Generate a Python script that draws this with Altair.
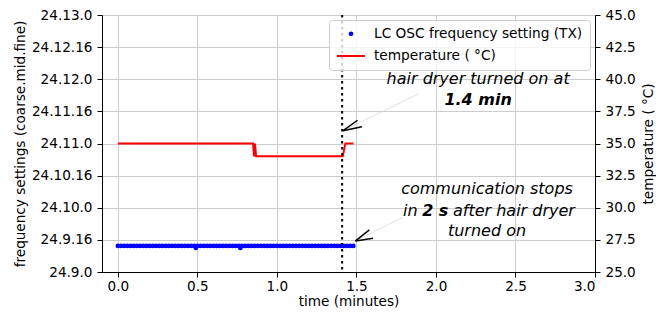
import altair as alt
import pandas as pd

# ---- data ----
blue_t = [0.0, 0.02, 0.04, 0.06, 0.08, 0.1, 0.12, 0.14, 0.16, 0.18, 0.2, 0.22,
          0.24, 0.26, 0.28, 0.3, 0.32, 0.34, 0.36, 0.38, 0.4, 0.42, 0.44, 0.46,
          0.48, 0.49, 0.5, 0.52, 0.54, 0.56, 0.58, 0.6, 0.62, 0.64, 0.66, 0.68,
          0.7, 0.72, 0.74, 0.76, 0.77, 0.78, 0.8, 0.82, 0.84, 0.86, 0.88, 0.9,
          0.92, 0.94, 0.96, 0.98, 1.0, 1.02, 1.04, 1.06, 1.08, 1.1, 1.12, 1.14,
          1.16, 1.18, 1.2, 1.22, 1.24, 1.26, 1.28, 1.3, 1.32, 1.34, 1.36, 1.38,
          1.4, 1.42, 1.44, 1.46, 1.48]
# frequency code = mid*32 + fine (coarse = 24)
blue_code = [301, 301, 301, 301, 301, 301, 301, 301, 301, 301, 301, 301,
             301, 301, 301, 301, 301, 301, 301, 301, 301, 301, 301, 301,
             301, 300, 301, 301, 301, 301, 301, 301, 301, 301, 301, 301,
             301, 301, 301, 301, 300, 301, 301, 301, 301, 301, 301, 301,
             301, 301, 301, 301, 301, 301, 301, 301, 301, 301, 301, 301,
             301, 301, 301, 301, 301, 301, 301, 301, 301, 301, 301, 301,
             301, 301, 301, 301, 301]
temp_t = [0.0, 0.850, 0.856, 0.862, 0.869, 1.414, 1.430, 1.481]
temp_c = [35, 35, 34, 35, 34, 34, 35, 35]

freq_ticks = [288, 304, 320, 336, 352, 368, 384, 400, 416]
temp_ticks = [25, 27.5, 30, 32.5, 35, 37.5, 40, 42.5, 45]
time_ticks = [0, 0.5, 1.0, 1.5, 2.0, 2.5, 3.0]
dryer_on_min = [1.41]

SERIES = ["LC OSC frequency setting (TX)", "temperature ( °C)"]

# annotation texts
ann_center_it = ["hair dryer turned on at", "communication stops", "turned on"]
ann_center_it_x = [2.265, 2.321, 2.321]
ann_center_it_t = [40.0, 31.45, 28.2]
ann_center_bold = ["1.4 min"]
ann_center_bold_x = [2.265]
ann_center_bold_t = [38.35]
ann_left_it = ["in", "after hair dryer"]
ann_left_it_x = [1.793, 2.107]
ann_left_it_t = [29.75, 29.75]
ann_left_bold = ["2 s"]
ann_left_bold_x = [1.913]
ann_left_bold_t = [29.75]

# arrows (shaft tail -> tip, and two head arms)
shaft_x = [1.888, 1.787]
shaft_t = [38.85, 29.23]
shaft_x2 = [1.416, 1.494]
shaft_t2 = [36.0, 27.42]
head_x = [1.416, 1.416, 1.494, 1.494]
head_t = [36.0, 36.0, 27.42, 27.42]
head_x2 = [1.507, 1.534, 1.581, 1.605]
head_t2 = [36.81, 36.31, 28.28, 27.62]

FONT = "DejaVu Sans"
FS = 13.6

xs = alt.Scale(domain=[-0.1, 3.0], nice=False, zero=False)
xa = alt.Axis(values=time_ticks, format=".1f", title="time (minutes)", grid=True,
              labelPadding=2, titlePadding=2)

ys_f = alt.Scale(domain=[288, 416], nice=False, zero=False)
ya_f = alt.Axis(values=freq_ticks, orient="left", grid=True,
                labelExpr="'24.' + floor(datum.value / 32) + '.' + (datum.value % 32)",
                title="frequency settings (coarse.mid.fine)", titlePadding=4, labelPadding=5)

ys_t = alt.Scale(domain=[25, 45], nice=False, zero=False)
ya_t = alt.Axis(values=temp_ticks, orient="right", grid=False, format=".1f",
                title="temperature ( °C)", titlePadding=6, labelPadding=5,
                titleAngle=270, titleBaseline="top")

legend = alt.Legend(
    title=None, orient="top-right", offset=5, padding=7, rowPadding=-1,
    labelFont=FONT, labelFontSize=13.7, labelColor="black", labelLimit=400,
    labelOffset=8, symbolStrokeWidth=2, symbolFillColor="#0000ff",
    fillColor="rgba(255,255,255,0.8)", strokeColor="#cccccc", cornerRadius=3,
)

blue_df = pd.DataFrame({"x": blue_t, "code": blue_code, "series": SERIES[0]})
points = alt.Chart(blue_df).mark_point(filled=False, fill="#0000ff", strokeWidth=2,
                                       opacity=1).encode(
    x=alt.X("x:Q", scale=xs, axis=xa),
    y=alt.Y("code:Q", scale=ys_f, axis=ya_f),
    color=alt.Color("series:N", scale=alt.Scale(domain=SERIES, range=["#0000ff", "#ff0000"]),
                    legend=legend),
    shape=alt.Shape("series:N", scale=alt.Scale(domain=SERIES, range=["circle", "stroke"]),
                    legend=legend),
    size=alt.Size("series:N", scale=alt.Scale(domain=SERIES, range=[8, 784]),
                  legend=legend),
)

temp_df = pd.DataFrame({"x": temp_t, "t": temp_c})
line = alt.Chart(temp_df).mark_line(color="#ff0000", strokeWidth=2).encode(
    x=alt.X("x:Q", scale=xs, axis=xa),
    y=alt.Y("t:Q", scale=ys_t, axis=ya_t),
)

vline = alt.Chart(pd.DataFrame({"x": dryer_on_min})).mark_rule(
    color="black", strokeWidth=2, strokeDash=[2.5, 3.5]
).encode(x=alt.X("x:Q", scale=xs, axis=xa))

shaft_df = pd.DataFrame({"x": shaft_x, "t": shaft_t, "x2": shaft_x2, "t2": shaft_t2})
shafts = alt.Chart(shaft_df).mark_rule(color="#d8d8d8", strokeWidth=0.8).encode(
    x=alt.X("x:Q", scale=xs, axis=xa), x2="x2:Q",
    y=alt.Y("t:Q", scale=ys_t, axis=ya_t), y2="t2:Q",
)
head_df = pd.DataFrame({"x": head_x, "t": head_t, "x2": head_x2, "t2": head_t2})
heads = alt.Chart(head_df).mark_rule(color="black", strokeWidth=1.5).encode(
    x=alt.X("x:Q", scale=xs, axis=xa), x2="x2:Q",
    y=alt.Y("t:Q", scale=ys_t, axis=ya_t), y2="t2:Q",
)


def text_layer(labels, xv, tv, align, bold):
    df = pd.DataFrame({"x": xv, "t": tv, "label": labels})
    return alt.Chart(df).mark_text(
        font=FONT, fontSize=16, fontStyle="italic",
        fontWeight="bold" if bold else "normal",
        align=align, baseline="middle", color="black",
    ).encode(
        x=alt.X("x:Q", scale=xs, axis=xa),
        y=alt.Y("t:Q", scale=ys_t, axis=ya_t),
        text="label:N",
    )


texts = [
    text_layer(ann_center_it, ann_center_it_x, ann_center_it_t, "center", False),
    text_layer(ann_center_bold, ann_center_bold_x, ann_center_bold_t, "center", True),
    text_layer(ann_left_it, ann_left_it_x, ann_left_it_t, "left", False),
    text_layer(ann_left_bold, ann_left_bold_x, ann_left_bold_t, "left", True),
]

inner = alt.layer(line, vline, shafts, heads, *texts)

chart = alt.layer(points, inner).resolve_scale(y="independent").properties(
    width=493, height=257,
    autosize=alt.AutoSizeParams(type="none"),
    padding={"left": 94, "top": 7, "right": 61, "bottom": 36},
).configure_axis(
    labelFont=FONT, titleFont=FONT, labelFontSize=FS, titleFontSize=FS,
    titleFontWeight="normal", labelColor="black", titleColor="black",
    domainColor="black", tickColor="black", tickSize=5, gridColor="#cccccc",
    domainWidth=1, tickWidth=1,
).configure_view(stroke="black", strokeWidth=1)

chart.save("out.html", embed_options={"renderer": "svg", "actions": False})
